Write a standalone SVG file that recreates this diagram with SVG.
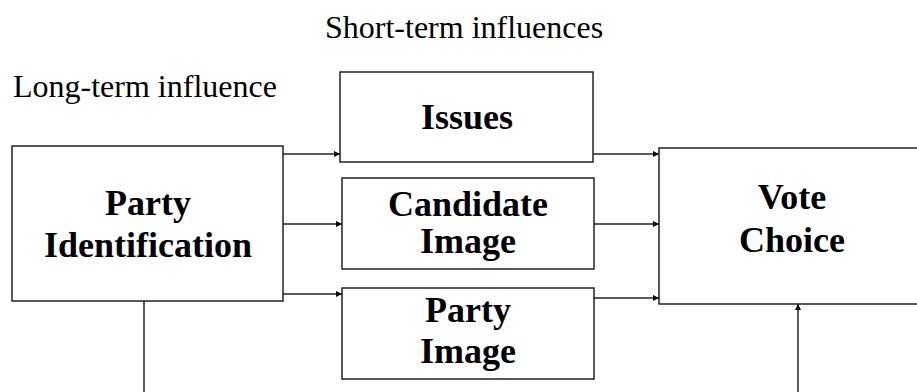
<svg xmlns="http://www.w3.org/2000/svg" width="917" height="392" viewBox="0 0 917 392">
<style>
.box{fill:#fff;stroke:#222;stroke-width:1.5}
.lbl{font-family:"Liberation Serif","Times New Roman",serif;font-weight:bold;font-size:36px;fill:#000;text-anchor:middle}
.cap{font-family:"Liberation Serif","Times New Roman",serif;font-size:32px;fill:#000}
.con{fill:none;stroke:#222;stroke-width:1.5}
</style>
<defs>
<marker id="ah" markerWidth="7" markerHeight="7" refX="6" refY="3.5" orient="auto" markerUnits="userSpaceOnUse">
<path d="M0,0.5 L6,3.5 L0,6.5 z" fill="#000"/>
</marker>
</defs>
<rect width="917" height="392" fill="#fff"/>
<text class="cap" x="325" y="38">Short-term influences</text>
<text class="cap" x="13" y="97">Long-term influence</text>
<g id="party-identification">
<rect class="box" x="12" y="146" width="271" height="155"/>
<text class="lbl" x="148" y="215">Party</text>
<text class="lbl" x="148" y="257">Identification</text>
</g>
<g id="issues">
<rect class="box" x="340" y="72" width="253" height="90"/>
<text class="lbl" x="467" y="129">Issues</text>
</g>
<g id="candidate-image">
<rect class="box" x="342" y="178" width="252" height="91"/>
<text class="lbl" x="468" y="216">Candidate</text>
<text class="lbl" x="468" y="253">Image</text>
</g>
<g id="party-image">
<rect class="box" x="342" y="288" width="252" height="91"/>
<text class="lbl" x="468" y="322">Party</text>
<text class="lbl" x="468" y="363">Image</text>
</g>
<g id="vote-choice">
<rect class="box" x="659" y="148" width="266" height="156"/>
<text class="lbl" x="792" y="209">Vote</text>
<text class="lbl" x="792" y="252">Choice</text>
</g>
<g id="connectors">
<line class="con" x1="283" y1="154" x2="340" y2="154" marker-end="url(#ah)"/>
<line class="con" x1="283" y1="224" x2="342" y2="224" marker-end="url(#ah)"/>
<line class="con" x1="283" y1="294" x2="342" y2="294" marker-end="url(#ah)"/>
<line class="con" x1="593" y1="154" x2="659" y2="154" marker-end="url(#ah)"/>
<line class="con" x1="594" y1="224" x2="659" y2="224" marker-end="url(#ah)"/>
<line class="con" x1="594" y1="298" x2="659" y2="298" marker-end="url(#ah)"/>
<line class="con" x1="144" y1="301" x2="144" y2="395"/>
<line class="con" x1="798" y1="395" x2="798" y2="304" marker-end="url(#ah)"/>
</g>
</svg>
